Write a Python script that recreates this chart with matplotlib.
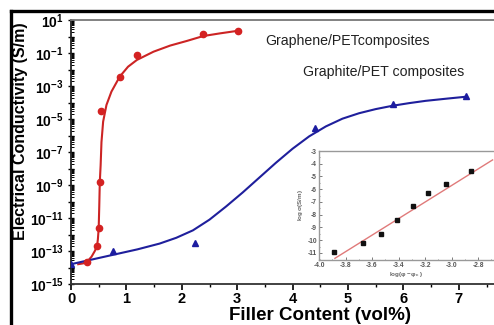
import numpy as np
import matplotlib
matplotlib.use("Agg")
import matplotlib.pyplot as plt
from matplotlib.ticker import LogLocator, MultipleLocator, NullFormatter
from matplotlib.lines import Line2D

plt.rcParams['font.family'] = ['Liberation Sans', 'DejaVu Sans']
plt.rcParams['mathtext.fontset'] = 'custom'
plt.rcParams['mathtext.rm'] = 'Liberation Sans:bold'
plt.rcParams['mathtext.bf'] = 'Liberation Sans:bold'
plt.rcParams['mathtext.it'] = 'Liberation Sans:bold:italic'
plt.rcParams['mathtext.default'] = 'bf'

# ---- data ----
graphene_x = [0.29, 0.47, 0.50, 0.52, 0.54, 0.88, 1.19, 2.39, 3.01]
graphene_y = [2.2e-14, 2.0e-13, 2.5e-12, 1.5e-9, 3.2e-5, 3.7e-3, 7.6e-2, 1.35, 2.24]

graphite_x = [0.0, 0.76, 2.24, 4.40, 5.81, 7.13]
graphite_y = [1.6e-14, 1.0e-13, 3.0e-13, 2.8e-6, 8.0e-5, 2.5e-4]

# fitted curves, log10 of conductivity
graphene_fit_x = [0.13, 0.22, 0.29, 0.37, 0.43, 0.47, 0.485, 0.50, 0.51, 0.52, 0.535, 0.55,
                  0.58, 0.64, 0.73, 0.88, 1.03, 1.19, 1.49, 1.79, 2.09, 2.39, 2.69, 3.02]
graphene_fit_log = [-13.8, -13.75, -13.65, -13.35, -13.0, -12.7, -12.3, -11.6, -10.3, -8.8, -7.8, -6.4,
                    -5.16, -4.15, -3.34, -2.43, -1.83, -1.42, -0.92, -0.55, -0.27, 0.03, 0.19, 0.35]

graphite_fit_x = [0.0, 0.4, 0.8, 1.2, 1.6, 1.9, 2.2, 2.5, 2.8, 3.1, 3.4, 3.7, 4.0, 4.3,
                  4.6, 4.9, 5.2, 5.5, 5.8, 6.1, 6.4, 6.8, 7.13]
graphite_fit_log = [-13.8, -13.5, -13.2, -12.9, -12.55, -12.2, -11.75, -11.1, -10.3, -9.45, -8.55,
                    -7.65, -6.8, -6.05, -5.45, -4.98, -4.65, -4.4, -4.2, -4.04, -3.9, -3.76, -3.65]

inset_x = [-3.885, -3.67, -3.53, -3.41, -3.29, -3.175, -3.04, -2.85]
inset_y = [-10.9, -10.2, -9.5, -8.42, -7.35, -6.33, -5.55, -4.59]
inset_fit_x = [-3.88, -2.69]
inset_fit_y = [-11.42, -3.70]

y_tick_exps = list(range(1, -16, -2))
x_ticks = [0, 1, 2, 3, 4, 5, 6, 7]
inset_xticks = [-4.0, -3.8, -3.6, -3.4, -3.2, -3.0, -2.8]
inset_yticks = [-3, -4, -5, -6, -7, -8, -9, -10, -11]

W, H = 494, 325
fig = plt.figure(figsize=(W / 100, H / 100), dpi=100)
fig.patch.set_facecolor('white')

ax = fig.add_axes([71 / W, 1 - 284 / H, 1 - 71 / W, 264 / H])
ax.set_yscale('log')
ax.set_xlim(0, (W - 71) / 55.4)
ax.set_ylim(1e-15, 1e1)

red = '#cc2424'
blue = '#1f1f9c'
ax.plot(graphene_fit_x, 10.0 ** np.array(graphene_fit_log), color=red, lw=1.5, zorder=2,
        solid_joinstyle='round')
ax.plot(graphite_fit_x, 10.0 ** np.array(graphite_fit_log), color=blue, lw=1.5, zorder=2,
        solid_joinstyle='round')
ax.plot(graphene_x, graphene_y, 'o', color='#d42222', ms=4.5, zorder=3)
ax.plot(graphite_x, graphite_y, '^', color='#1c1ca0', ms=5, zorder=3)

for s in ['left', 'bottom', 'top']:
    ax.spines[s].set_linewidth(1.3)
ax.spines['left'].set_color('#222222')
ax.spines['bottom'].set_color('#333333')
ax.spines['top'].set_color('#777777')
ax.spines['right'].set_visible(False)

ax.yaxis.set_minor_locator(LogLocator(base=10, subs=np.arange(2, 10), numticks=200))
ax.yaxis.set_minor_formatter(NullFormatter())
maj = [10.0 ** e for e in range(1, -16, -1)]
ax.set_yticks(maj)
ax.set_yticklabels([r'$10^{%d}$' % e if e in y_tick_exps else '' for e in range(1, -16, -1)])
ax.tick_params(axis='y', which='major', direction='inout', length=5, width=1.0, labelsize=10, pad=3)
ax.tick_params(axis='y', which='minor', direction='in', length=2.5, width=0.7)

ax.set_xticks(x_ticks)
ax.set_xticklabels([str(v) for v in x_ticks], fontweight='bold')
ax.xaxis.set_minor_locator(MultipleLocator(0.5))
ax.tick_params(axis='x', which='major', direction='out', length=4, width=1.2, labelsize=10.5, pad=1.5)
ax.tick_params(axis='x', which='minor', direction='out', length=2, width=1.0)

fig.text(320 / W, 1 - 315 / H, 'Filler Content (vol%)', fontsize=13.5, fontweight='bold',
         ha='center', va='center')
fig.text(21 / W, 1 - 131 / H, 'Electrical Conductivity (S/m)', fontsize=11.5, fontweight='bold',
         ha='center', va='center', rotation=90)

fig.text(265 / W, 1 - 41 / H, 'Graphene/PETcomposites', fontsize=10.2, color='#222222',
         ha='left', va='center')
fig.text(303 / W, 1 - 72 / H, 'Graphite/PET composites', fontsize=10.2, color='#222222',
         ha='left', va='center')

# inset
ins = fig.add_axes([319 / W, 1 - 260 / H, (W - 319) / W, 109 / H])
ins.set_facecolor('white')
ins.set_xlim(-4.0, -4.0 + (W - 319) / 132.5)
ins.set_ylim(-11.55, -3.0)
ins.plot(inset_fit_x, inset_fit_y, color='#e07a7a', lw=1.0)
ins.plot(inset_x, inset_y, 's', color='#111111', ms=2.2)
for s in ['left', 'bottom', 'top']:
    ins.spines[s].set_color('#999999')
    ins.spines[s].set_linewidth(1.0)
ins.spines['right'].set_visible(False)
ins.set_xticks(inset_xticks)
ins.set_xticklabels(['%.1f' % v for v in inset_xticks])
ins.set_yticks(inset_yticks)
ins.set_yticklabels([str(v) for v in inset_yticks])
ins.xaxis.set_minor_locator(MultipleLocator(0.1))
ins.yaxis.set_minor_locator(MultipleLocator(0.5))
ins.tick_params(which='major', direction='in', length=2, width=0.6, labelsize=4.8,
                labelcolor='#555555', color='#666666', pad=1.5)
ins.tick_params(which='minor', direction='in', length=1, width=0.5, color='#666666')
for lab in ins.get_xticklabels() + ins.get_yticklabels():
    lab.set_fontweight('bold')
ins.set_xlabel(r'$\mathrm{log(\varphi-\varphi_c\ )}$', fontsize=4.5, color='#666666', labelpad=1)
ins.set_ylabel(r'$\mathrm{log\,\sigma(S/m)}$', fontsize=4.5, color='#666666', labelpad=2)

# outer black frame (top and left edges visible)
fig.add_artist(Line2D([11 / W, 1.0], [1 - 11 / H, 1 - 11 / H], transform=fig.transFigure,
                      color='black', lw=2.4))
fig.add_artist(Line2D([11 / W, 11 / W], [0, 1 - 11 / H], transform=fig.transFigure,
                      color='black', lw=2.4))

fig.savefig('out.png', dpi=100)
